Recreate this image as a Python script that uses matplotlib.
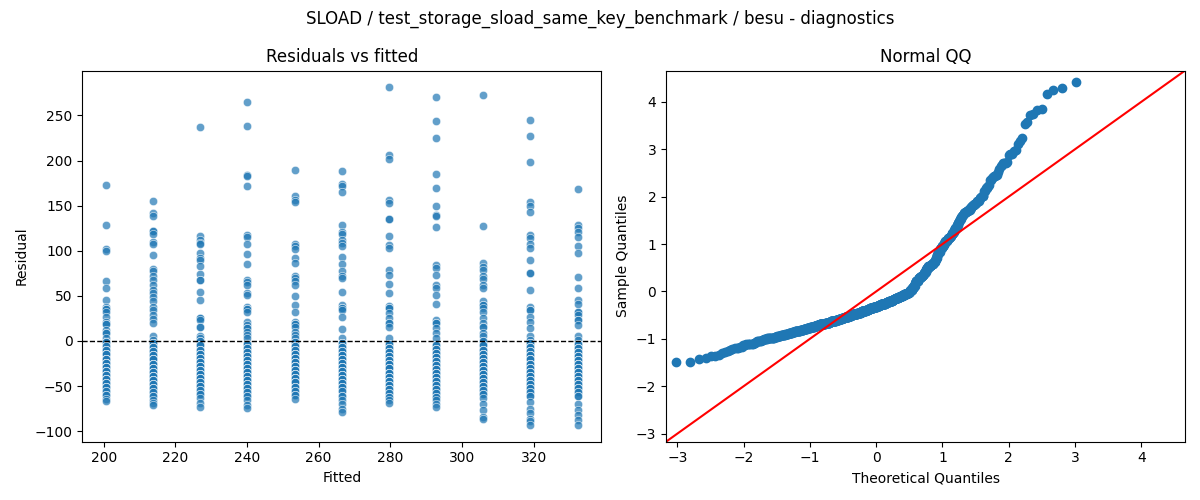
import matplotlib
matplotlib.use("Agg")
import matplotlib.pyplot as plt
import seaborn as sns
import numpy as np
from statistics import NormalDist

# Fitted value levels (x positions of the 11 columns)
fitted_levels = [200.6, 213.8, 227.0, 240.1, 253.3, 266.5, 279.6, 292.8, 306.0, 319.1, 332.3]

# Residuals above zero per column (repeats = overlapping dots)
pos_g01 = [173, 128.5, 102, 100, 66, 58.5, 45.5, 38, 35, 35, 32, 27, 21.5, 19, 19, 12, 8.5, 8.5, 3]
pos_g02 = [155, 141.5, 138.5, 122, 122, 118.5, 110, 107.5, 95, 79.5, 77, 72, 67.5, 62, 57, 53, 49, 44,
           38, 34.5, 29, 24, 20, 5, 1]
pos_g03 = [237, 116.5, 112, 109, 107.5, 98, 92, 90, 83, 74, 67.5, 67.5, 54, 45, 25, 25, 23, 15, 15, 6, 3]
pos_g04 = [265, 238, 184, 183, 172, 117.5, 115.5, 108, 96, 85, 68, 65, 62, 53, 51, 38, 35, 35, 32.5,
           21.5, 18, 14, 14, 10, 7, 3]
pos_g05 = [190, 161, 156.5, 153.5, 108, 105, 102, 92, 86, 72, 69.5, 67, 62, 50, 40, 32,
           21.5, 18.5, 18.5, 16, 10, 6.5, 3]
pos_g06 = [188, 174, 172, 165, 128.5, 121, 118.5, 112, 109, 105, 93, 85, 77, 72, 69.5, 54,
           40, 37, 37, 34.5, 27, 13, 3]
pos_g07 = [281, 206, 202, 156.5, 153, 135, 135, 116.5, 106.5, 103.5, 79, 73, 63, 53, 39, 36, 36, 31,
           25, 20, 20, 15, 3]
pos_g08 = [270, 244, 225, 185, 169.5, 150, 140, 139, 126, 84, 80.5, 73, 61.5, 58.5, 51, 41.5,
           23, 19.5, 19.5, 14, 8.5, 3]
pos_g09 = [272.5, 127.5, 86, 82.5, 78.5, 71.5, 68.5, 62, 59, 44, 40, 40, 36, 32, 25, 19.5, 15, 15, 8.5, 5]
pos_g10 = [245, 227, 198, 154.5, 150, 143.5, 117.5, 114, 108, 103.5, 90, 75, 75, 57, 38, 34.5, 34.5,
           27, 21.5, 14, 5, 1]
pos_g11 = [168, 128.5, 125, 121, 115.5, 105, 98, 70.5, 59, 45.5, 41, 32.5, 32.5, 29, 23, 23, 17.5, 5, 1]

# Residuals below zero per column: dot levels and how many dots overlap at each level
neg_lv_g01 = [-1.5, -6, -10.5, -15, -19.5, -24, -28.5, -33, -37.5, -42, -46.5, -51, -55.5, -60, -64, -67]
neg_ct_g01 = [3, 2, 3, 4, 4, 4, 4, 4, 4, 4, 3, 3, 2, 2, 1, 1]
neg_lv_g02 = [-2.5, -7, -11.5, -16, -20.5, -25, -29.5, -34, -38.5, -43, -47.5, -52, -56.5, -61, -66, -68.5, -71]
neg_ct_g02 = [3, 3, 3, 4, 4, 4, 4, 4, 4, 4, 3, 3, 2, 2, 1, 1, 1]
neg_lv_g03 = [-0.5, -5, -9.5, -14, -18.5, -23, -27.5, -32, -36.5, -41, -45.5, -50, -54.5, -59, -63.5, -69, -73]
neg_ct_g03 = [2, 3, 3, 4, 4, 4, 4, 4, 4, 4, 3, 3, 2, 2, 1, 1, 1]
neg_lv_g04 = [-3, -7.5, -12, -16.5, -21, -25.5, -30, -34.5, -39, -43.5, -48, -52.5, -57, -61.5, -66, -70.5, -74.5]
neg_ct_g04 = [3, 3, 3, 4, 4, 4, 4, 4, 4, 4, 3, 3, 2, 2, 1, 1, 1]
neg_lv_g05 = [-1, -5.5, -10, -14.5, -19, -23.5, -28, -32.5, -37, -41.5, -46, -50.5, -55, -59.5, -64.7]
neg_ct_g05 = [2, 3, 3, 4, 4, 4, 4, 4, 4, 4, 3, 3, 2, 2, 1]
neg_lv_g06 = [-2, -6.5, -11, -15.5, -20, -24.5, -29, -33.5, -38, -42.5, -47, -51.5, -56, -60.5, -65, -70, -75, -79]
neg_ct_g06 = [3, 3, 3, 4, 4, 4, 4, 4, 4, 4, 3, 3, 2, 2, 1, 1, 1, 1]
neg_lv_g07 = [-3.5, -8, -12.5, -17, -21.5, -26, -30.5, -35, -39.5, -44, -48.5, -53, -57.5, -62, -66, -69]
neg_ct_g07 = [3, 3, 3, 4, 4, 4, 4, 4, 4, 4, 3, 3, 2, 2, 1, 1]
neg_lv_g08 = [-4, -8.5, -13, -17.5, -22, -26.5, -31, -35.5, -40, -44.5, -49, -53.5, -58, -62.5, -66, -70, -73.5]
neg_ct_g08 = [3, 3, 3, 4, 4, 4, 4, 4, 4, 4, 3, 3, 2, 2, 1, 1, 1]
neg_lv_g09 = [-0.5, -5, -9.5, -14, -18.5, -23, -27.5, -32, -36.5, -41, -45.5, -50, -54.5, -59, -63.5,
              -70, -77, -84, -86]
neg_ct_g09 = [2, 3, 3, 4, 4, 4, 4, 4, 4, 4, 3, 3, 2, 2, 1, 1, 1, 1, 1]
neg_lv_g10 = [-2.5, -7, -11.5, -16, -20.5, -25, -29.5, -34, -38.5, -43, -47.5, -52, -56.5, -61,
              -68, -75, -80, -86, -89, -93]
neg_ct_g10 = [3, 3, 3, 4, 4, 4, 4, 4, 4, 4, 3, 3, 2, 2, 1, 1, 1, 1, 1, 1]
neg_lv_g11 = [-3, -7.5, -12, -16.5, -21, -25.5, -30, -34.5, -39, -43.5, -48, -52.5, -57, -61.5,
              -70, -76, -82, -88, -93]
neg_ct_g11 = [3, 3, 3, 4, 4, 4, 4, 4, 4, 4, 3, 3, 2, 2, 1, 1, 1, 1, 1]

pos_groups = [pos_g01, pos_g02, pos_g03, pos_g04, pos_g05, pos_g06,
              pos_g07, pos_g08, pos_g09, pos_g10, pos_g11]
neg_levels = [neg_lv_g01, neg_lv_g02, neg_lv_g03, neg_lv_g04, neg_lv_g05, neg_lv_g06,
              neg_lv_g07, neg_lv_g08, neg_lv_g09, neg_lv_g10, neg_lv_g11]
neg_counts = [neg_ct_g01, neg_ct_g02, neg_ct_g03, neg_ct_g04, neg_ct_g05, neg_ct_g06,
              neg_ct_g07, neg_ct_g08, neg_ct_g09, neg_ct_g10, neg_ct_g11]

fitted_parts, resid_parts = [], []
for lvl, pos, nlv, nct in zip(fitted_levels, pos_groups, neg_levels, neg_counts):
    r = np.concatenate([np.asarray(pos, dtype=float), np.repeat(np.asarray(nlv, dtype=float), nct)])
    resid_parts.append(r)
    fitted_parts.append(np.full(len(r), lvl))
fitted = np.concatenate(fitted_parts)
resid = np.concatenate(resid_parts)

fig, (ax1, ax2) = plt.subplots(1, 2, figsize=(12, 5), dpi=100)
fig.suptitle("SLOAD / test_storage_sload_same_key_benchmark / besu - diagnostics")

# Residuals vs fitted
sns.scatterplot(x=fitted, y=resid, alpha=0.7, ax=ax1)
ax1.axhline(0, color="black", linestyle="--", linewidth=1)
ax1.set_title("Residuals vs fitted")
ax1.set_xlabel("Fitted")
ax1.set_ylabel("Residual")

# Normal QQ (standardized residuals vs normal quantiles)
n = len(resid)
std_resid = np.sort((resid - resid.mean()) / resid.std())
nd = NormalDist()
theo = np.array([nd.inv_cdf(i / (n + 1)) for i in range(1, n + 1)])
ax2.plot(theo, std_resid, marker="o", linestyle="none", color="C0")
lims = (-3.17, 4.66)
ax2.plot(lims, lims, "r-")
ax2.set_xlim(lims)
ax2.set_ylim(lims)
ax2.set_title("Normal QQ")
ax2.set_xlabel("Theoretical Quantiles")
ax2.set_ylabel("Sample Quantiles")

fig.tight_layout()
fig.savefig("out.png")
